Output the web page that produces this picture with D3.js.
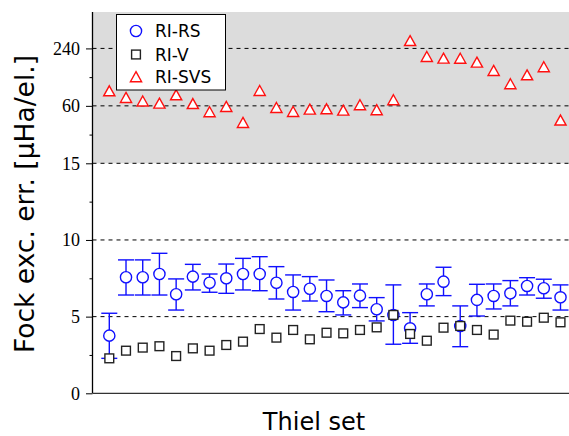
<!DOCTYPE html>
<html><head><meta charset="utf-8">
<script src="https://cdn.jsdelivr.net/npm/d3@7"></script>
<style>body{margin:0;background:#fff}svg{display:block}</style>
</head><body><svg id="c" width="569" height="436"></svg>
<script>
const seriesNames = ["RI-RS","RI-V","RI-SVS"];
const rs   = [3.76,7.57,7.57,7.78,6.46,7.61,7.21,7.50,7.78,7.78,7.21,6.61,6.82,6.35,5.93,6.37,5.48,5.11,4.24,6.46,7.28,4.39,6.09,6.35,6.52,7.00,6.85,6.26];
const rsHi = [5.22,8.70,8.70,9.13,7.46,8.41,7.78,8.43,8.80,8.91,8.26,7.72,7.61,7.39,6.69,7.13,6.24,7.07,5.26,7.13,8.22,5.70,7.11,7.13,7.35,7.54,7.44,7.07];
const rsLo = [2.28,6.41,6.41,6.41,5.43,6.74,6.59,6.52,6.74,6.69,6.15,5.43,6.02,5.32,5.11,5.59,4.72,3.20,3.26,5.70,6.37,3.04,5.04,5.50,5.70,6.41,6.20,5.43];
const rv   = [2.28,2.78,2.98,3.07,2.43,2.93,2.78,3.15,3.37,4.19,3.63,4.13,3.52,3.95,3.91,4.13,4.30,5.11,3.87,3.43,4.28,4.39,4.13,3.83,4.74,4.67,4.93,4.63];
const svs  = [85.7,73,67,63.7,77.8,63,51.7,58.7,39.9,86.3,57.3,52,55.1,55.5,53.8,61.2,54.3,69,288,196,188.5,188,171,140,101.5,126,153,42.3];
const linTicks = [0,5,10,15];
const logTicks = [60,240];
const linMinor = [2.5,7.5,12.5];
const logMinor = [30,120];
const gridVals = [5,10,15,60,240];

const svg = d3.select("#c");
const L = 92.5, R = 569, B = 393.3, BR = 163.3, T = 12;
const yLin = d3.scaleLinear().domain([0,15]).range([B, BR]);
const yLog = d3.scaleLog().base(2).domain([15, 578]).range([BR, T]);
const y = v => v <= 15 ? yLin(v) : yLog(v);
const x = d3.scaleLinear().domain([0, 27]).range([109.3, 560.5]);
const idx = d3.range(rs.length);

svg.append("rect").attr("x", L).attr("y", T).attr("width", R - L).attr("height", BR - T).attr("fill", "#dcdcdc");

svg.append("g").selectAll("line").data(gridVals).join("line")
  .attr("x1", L).attr("x2", R).attr("y1", d => y(d)).attr("y2", d => y(d))
  .attr("stroke", "#000").attr("stroke-width", 1).attr("stroke-dasharray", "4,4");

const tf = d => String(d);
const axStyle = g => {
  g.select(".domain").remove();
  g.selectAll("text").attr("font-family", "'Liberation Serif', serif").attr("font-size", 18).attr("fill", "#000");
  g.selectAll("line").attr("stroke", "#000");
};
svg.append("g").attr("transform", `translate(${L},0)`)
  .call(d3.axisLeft(yLin).tickValues(linTicks).tickFormat(tf).tickSize(6.5).tickPadding(6)).call(axStyle);
svg.append("g").attr("transform", `translate(${L},0)`)
  .call(d3.axisLeft(yLog).tickValues(logTicks).tickFormat(tf).tickSize(6.5).tickPadding(6)).call(axStyle);
svg.append("g").attr("transform", `translate(${L},0)`)
  .call(d3.axisLeft(yLin).tickValues(linMinor).tickFormat("").tickSize(3)).call(axStyle);
svg.append("g").attr("transform", `translate(${L},0)`)
  .call(d3.axisLeft(yLog).tickValues(logMinor).tickFormat("").tickSize(3)).call(axStyle);

svg.append("line").attr("x1", L).attr("x2", L).attr("y1", T).attr("y2", B).attr("stroke", "#000").attr("stroke-width", 1.3);
svg.append("line").attr("x1", L).attr("x2", R).attr("y1", B).attr("y2", B).attr("stroke", "#333").attr("stroke-width", 1.3);

const blue = "#1010ff", red = "#ff1010";
const eb = svg.append("g").attr("stroke", blue).attr("stroke-width", 1.4).attr("fill", "none");
eb.selectAll(".v").data(idx).join("line").attr("x1", i => x(i)).attr("x2", i => x(i))
  .attr("y1", i => y(rsLo[i])).attr("y2", i => y(rsHi[i]));
eb.selectAll(".t").data(idx).join("line").attr("x1", i => x(i) - 8).attr("x2", i => x(i) + 8)
  .attr("y1", i => y(rsHi[i])).attr("y2", i => y(rsHi[i]));
eb.selectAll(".b").data(idx).join("line").attr("x1", i => x(i) - 8).attr("x2", i => x(i) + 8)
  .attr("y1", i => y(rsLo[i])).attr("y2", i => y(rsLo[i]));

const circ = (g, cx, cy) => g.append("circle").attr("cx", cx).attr("cy", cy).attr("r", 5.6)
  .attr("fill", "#fff").attr("stroke", blue).attr("stroke-width", 1.4);
const sq = (g, cx, cy) => g.append("rect").attr("x", cx - 4.4).attr("y", cy - 4.4).attr("width", 8.8).attr("height", 8.8)
  .attr("fill", "#fff").attr("stroke", "#222").attr("stroke-width", 1.4);
const tri = (g, cx, cy) => g.append("path").attr("d", `M${cx},${cy-5.3}L${cx+5.6},${cy+4.7}L${cx-5.6},${cy+4.7}Z`)
  .attr("fill", "#fff").attr("stroke", red).attr("stroke-width", 1.4);

const gm = svg.append("g");
idx.forEach(i => circ(gm, x(i), y(rs[i])));
idx.forEach(i => sq(gm, x(i), y(rv[i])));
idx.forEach(i => tri(gm, x(i), y(svs[i])));

const lg = svg.append("g");
lg.append("rect").attr("x", 116.5).attr("y", 14.5).attr("width", 109).attr("height", 75.5)
  .attr("fill", "#fff").attr("stroke", "#000").attr("stroke-width", 1);
const ly = [31, 54.5, 77];
circ(lg, 136, ly[0]); sq(lg, 136, ly[1]); tri(lg, 136, ly[2]);
lg.selectAll("text").data(seriesNames).join("text").attr("x", 155).attr("y", (d, i) => ly[i] + 6)
  .attr("font-family", "'DejaVu Sans', sans-serif").attr("font-size", 17).attr("fill", "#000").text(d => d);

svg.append("text").attr("x", 314).attr("y", 430).attr("text-anchor", "middle")
  .attr("font-family", "'DejaVu Sans', sans-serif").attr("font-size", 24).text("Thiel set");
svg.append("text").attr("transform", "translate(34,204) rotate(-90)").attr("text-anchor", "middle")
  .attr("font-family", "'DejaVu Sans', sans-serif").attr("font-size", 26.5).text("Fock exc. err. [μHa/el.]");
</script></body></html>
